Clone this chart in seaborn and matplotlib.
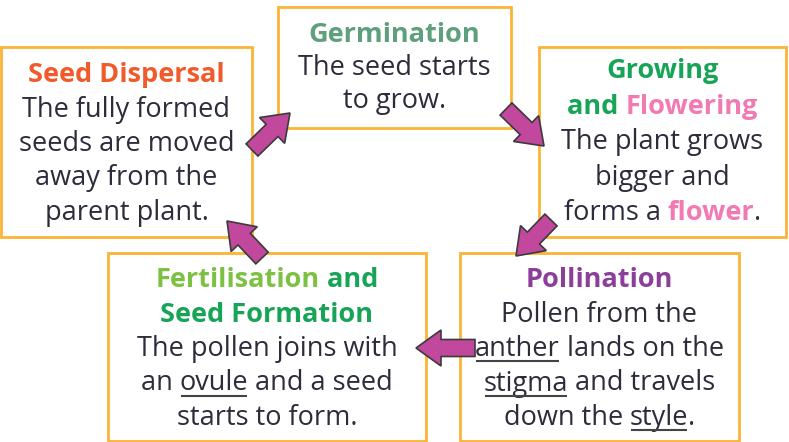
import matplotlib.pyplot as plt
import matplotlib.patches as mpatches
import seaborn as sns

# --- ESTILO ---
sns.set_theme(style='white')
plt.rcParams['font.family'] = ['Open Sans', 'DejaVu Sans']

# --- CORES ---
orange_red = '#f15a2b'
sage = '#5e9f7c'
green = '#17a457'
light_green = '#7cc142'
pink = '#f27ab3'
purple = '#8b3f9b'
ink = '#2c2c3a'
border = '#fbb437'
arrow_fill = '#c2489d'
arrow_edge = '#3b3b3b'

# --- DADOS (texto de cada etapa) ---
stages = ['Seed Dispersal', 'Germination', 'Growing and Flowering',
          'Pollination', 'Fertilisation and Seed Formation']

# cada linha = lista de (texto, cor, estilo) ; estilo: '' normal, 'b' negrito, 'u' sublinhado
dispersal_title = [[('Seed Dispersal', orange_red, 'b')]]
dispersal_body = [[('The fully formed', ink, '')],
                  [('seeds are moved', ink, '')],
                  [('away from the', ink, '')],
                  [('parent plant.', ink, '')]]

germination_title = [[('Germination', sage, 'b')]]
germination_body = [[('The seed starts', ink, '')],
                    [('to grow.', ink, '')]]

growing_title = [[('Growing', green, 'b')],
                 [('and ', green, 'b'), ('Flowering', pink, 'b')]]
growing_body = [[('The plant grows', ink, '')],
                [('bigger and', ink, '')],
                [('forms a ', ink, ''), ('flower', pink, 'b'), ('.', ink, '')]]

pollination_title = [[('Pollination', purple, 'b')]]
pollination_body = [[('Pollen from the', ink, '')],
                    [('anther', ink, 'u'), (' lands on the', ink, '')],
                    [('stigma', ink, 'u'), (' and travels', ink, '')],
                    [('down the ', ink, ''), ('style', ink, 'u'), ('.', ink, '')]]

fertilisation_title = [[('Fertilisation', light_green, 'b'), (' and', green, 'b')],
                       [('Seed Formation', green, 'b')]]
fertilisation_body = [[('The pollen joins with', ink, '')],
                      [('an ', ink, ''), ('ovule', ink, 'u'), (' and a seed', ink, '')],
                      [('starts to form.', ink, '')]]

titles = [dispersal_title, germination_title, growing_title,
          pollination_title, fertilisation_title]
bodies = [dispersal_body, germination_body, growing_body,
          pollination_body, fertilisation_body]

# --- LAYOUT (pixels) ---
box_x0 = [1, 278, 539, 460, 108]
box_x1 = [252, 511, 786, 739, 426]
box_y0 = [47, 7, 47, 253, 253]
box_y1 = [237, 128, 237, 441, 441]
first_baseline = [82, 42, 78, 287, 287]
line_step = [34.5, 33, 35.5, 34.5, 34.5]

# setas: (cauda x, cauda y, ponta x, ponta y)
arrows = [(252, 150, 290, 113),
          (506, 109, 544, 146),
          (551, 220, 516, 256),
          (475, 348, 416, 348),
          (262, 258, 227, 221)]

font_size = 19.5

fig, ax = plt.subplots(figsize=(7.89, 4.42), dpi=100)
ax.set_position([0, 0, 1, 1])
ax.set_xlim(0, 789)
ax.set_ylim(442, 0)
ax.axis('off')
renderer = fig.canvas.get_renderer()


def raw_width(s, weight):
    t = ax.text(0, 0, s, fontsize=font_size, fontweight=weight)
    w = t.get_window_extent(renderer).width
    t.remove()
    return w


def advance(s, weight):
    # largura incluindo espacos nas pontas
    return raw_width('|' + s + '|', weight) - raw_width('||', weight)


def draw_line(cx, y, segs):
    widths = [advance(s, 'bold' if st == 'b' else 'normal') for s, _, st in segs]
    x = cx - sum(widths) / 2
    for (s, c, st), w in zip(segs, widths):
        weight = 'bold' if st == 'b' else 'normal'
        ax.text(x, y, s, color=c, fontsize=font_size, fontweight=weight,
                ha='left', va='baseline', zorder=3)
        if st == 'u':
            ax.plot([x + 1, x + w - 1], [y + 5, y + 5], color='#444444',
                    lw=1.5, zorder=3, solid_capstyle='butt')
        x += w


for k in range(len(stages)):
    rect = mpatches.Rectangle((box_x0[k], box_y0[k]), box_x1[k] - box_x0[k],
                              box_y1[k] - box_y0[k], fill=True, fc='white',
                              ec=border, lw=2, zorder=1)
    ax.add_patch(rect)
    cx = (box_x0[k] + box_x1[k]) / 2
    y = first_baseline[k]
    for line in titles[k] + bodies[k]:
        draw_line(cx, y, line)
        y += line_step[k]

for tx, ty, hx, hy in arrows:
    arr = mpatches.FancyArrow(tx, ty, hx - tx, hy - ty, width=17,
                              head_width=36, head_length=25,
                              length_includes_head=True, fc=arrow_fill,
                              ec=arrow_edge, lw=1.2, zorder=4)
    ax.add_patch(arr)

plt.savefig('out.png', dpi=100, facecolor='white')
plt.close()
